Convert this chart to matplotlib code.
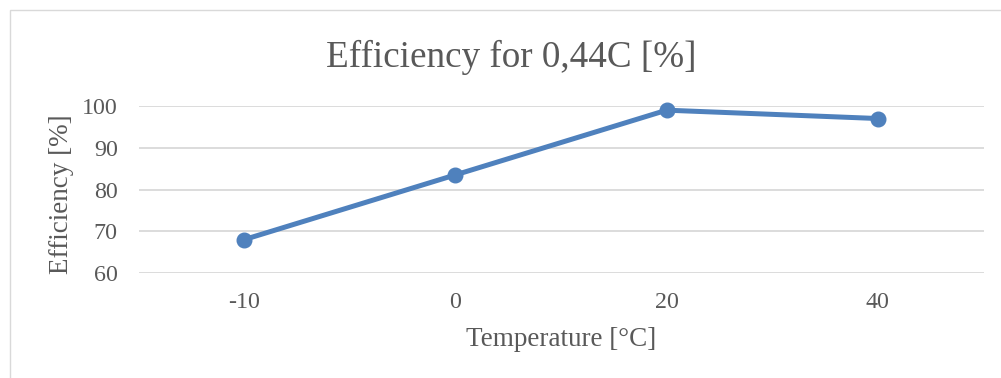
import matplotlib
matplotlib.use("Agg")
import matplotlib.pyplot as plt
from matplotlib.patches import Rectangle

categories = ["-10", "0", "20", "40"]
efficiency = [68, 83.5, 99, 97]
yticks = [60, 70, 80, 90, 100]

plt.rcParams['font.family'] = ['Liberation Serif', 'DejaVu Serif']
txt = '#595959'

W, H = 1001, 378
fig = plt.figure(figsize=(W/100, H/100), dpi=100)
fig.patches.append(Rectangle((10/W, -0.1), 1.2, 1 - 10/H + 0.1, transform=fig.transFigure,
                             fill=False, edgecolor='#d9d9d9', linewidth=1.0))

ax = fig.add_axes([138.5/W, 1 - 273/H, (983.5-138.5)/W, (273-106)/H])
x = list(range(len(categories)))
ax.plot(x, efficiency, color='#4f81bd', linewidth=3.6, marker='o', markersize=10.5,
        solid_capstyle='round', zorder=3, clip_on=False)
ax.set_xlim(-0.5, len(categories) - 0.5)
ax.set_ylim(60, 100)
ax.set_yticks(yticks)
ax.set_xticks(x)
ax.set_xticklabels(categories)
ax.grid(axis='y', color='#d9d9d9', linewidth=1.3)
for s in ax.spines.values():
    s.set_visible(False)
ax.tick_params(length=0, labelsize=17.3, colors=txt)
ax.tick_params(axis='x', pad=14)
ax.tick_params(axis='y', pad=15)
fig.text(561/W, 1 - 340/H, 'Temperature [°C]', fontsize=19.5, color=txt,
         ha='center', va='center')
fig.text(62/W, 1 - 194/H, 'Efficiency [%]', fontsize=19.5, color=txt,
         ha='center', va='center', rotation=90)
fig.text(511/W, 1 - 57/H, 'Efficiency for 0,44C [%]', fontsize=26.7, color=txt,
         ha='center', va='center')
fig.savefig('out.png', dpi=100)
